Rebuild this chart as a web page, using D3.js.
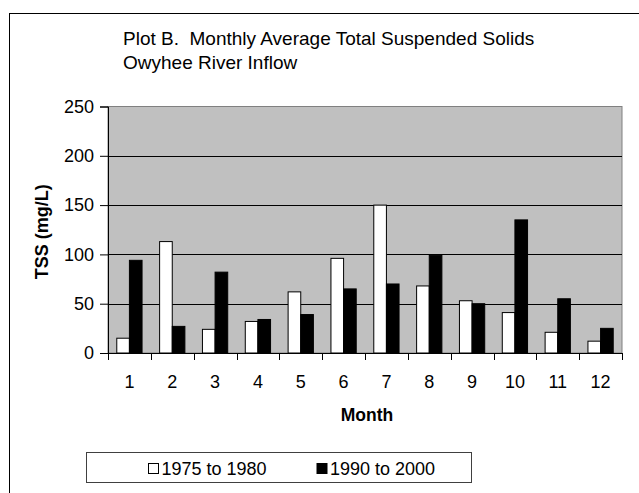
<!DOCTYPE html>
<html>
<head>
<meta charset="utf-8">
<script src="https://cdn.jsdelivr.net/npm/d3@7"></script>
<style>
  html, body { margin: 0; padding: 0; background: #fff; }
  svg { display: block; }
  text { font-family: "Liberation Sans", Arial, sans-serif; fill: #000; white-space: pre; }
</style>
</head>
<body>
<svg id="chart" width="639" height="493"></svg>
<script>
// Monthly average TSS (mg/L), Owyhee River inflow
const months = ["1","2","3","4","5","6","7","8","9","10","11","12"];
const tss1975to1980 = [15, 113, 24, 32, 62, 96, 150, 68, 53, 41, 21, 12];
const tss1990to2000 = [94, 27, 82, 34, 39, 65, 70, 99, 50, 135, 55, 25];
const seriesNames = ["1975 to 1980", "1990 to 2000"];
const yTicks = [0, 50, 100, 150, 200, 250];
const titleLines = ["Plot B.  Monthly Average Total Suspended Solids", "Owyhee River Inflow"];

const svg = d3.select("#chart");
const plot = { left: 108, right: 622, top: 106.5, bottom: 353 };

// outer chart frame (continues past the right and bottom edges)
svg.append("rect")
  .attr("x", 9.5).attr("y", 13.5)
  .attr("width", 700).attr("height", 600)
  .attr("fill", "#fff").attr("stroke", "#000").attr("stroke-width", 1);

const x = d3.scaleBand().domain(months).range([plot.left, plot.right]);
const y = d3.scaleLinear().domain([0, 250]).range([plot.bottom, plot.top]);

// plot area
svg.append("rect")
  .attr("x", plot.left).attr("y", plot.top)
  .attr("width", plot.right - plot.left).attr("height", plot.bottom - plot.top)
  .attr("fill", "#c0c0c0").attr("stroke", "#808080").attr("stroke-width", 1);

// horizontal gridlines
svg.append("g")
  .selectAll("line")
  .data(yTicks.filter(d => d > 0 && d < 250))
  .join("line")
  .attr("x1", plot.left).attr("x2", plot.right)
  .attr("y1", d => Math.round(y(d)) + 0.5).attr("y2", d => Math.round(y(d)) + 0.5)
  .attr("stroke", "#000").attr("stroke-width", 1);

// bars
const barW = x.bandwidth() * 0.295;
const series = [
  { name: seriesNames[0], values: tss1975to1980, fill: "#fff", offset: -1 },
  { name: seriesNames[1], values: tss1990to2000, fill: "#000", offset: 0 }
];
series.forEach(s => {
  svg.append("g")
    .selectAll("rect")
    .data(months.map((m, i) => ({ m, v: s.values[i] })))
    .join("rect")
    .attr("x", d => x(d.m) + x.bandwidth() / 2 + s.offset * barW)
    .attr("y", d => y(d.v))
    .attr("width", barW)
    .attr("height", d => y(0) - y(d.v))
    .attr("fill", s.fill)
    .attr("stroke", "#000").attr("stroke-width", 1);
});

// y axis
const yAxis = d3.axisLeft(y).tickValues(yTicks).tickSize(8).tickPadding(6);
const gy = svg.append("g").attr("transform", `translate(${plot.left},0)`).call(yAxis);
gy.select(".domain").attr("stroke", "#000");
gy.selectAll(".tick line").attr("stroke", "#000");
gy.selectAll(".tick text").style("font-size", "18px").attr("font-family", null);

// x axis: ticks on category boundaries, labels at category centres
const gx = svg.append("g").attr("transform", `translate(0,${plot.bottom})`);
gx.append("line")
  .attr("x1", plot.left).attr("x2", plot.right)
  .attr("y1", 0.5).attr("y2", 0.5).attr("stroke", "#000");
const bounds = months.map(m => x(m)).concat([plot.right]);
gx.selectAll("line.tk")
  .data(bounds)
  .join("line").attr("class", "tk")
  .attr("x1", d => Math.round(d) + 0.5).attr("x2", d => Math.round(d) + 0.5)
  .attr("y1", 0).attr("y2", 7).attr("stroke", "#000");
gx.selectAll("text")
  .data(months)
  .join("text")
  .attr("x", d => x(d) + x.bandwidth() / 2)
  .attr("y", 35)
  .attr("text-anchor", "middle")
  .style("font-size", "18px")
  .text(d => d);

// axis titles
svg.append("text")
  .attr("x", (plot.left + plot.right) / 2 + 2).attr("y", 421)
  .attr("text-anchor", "middle")
  .style("font-size", "17.5px").style("font-weight", "bold")
  .text("Month");
svg.append("text")
  .attr("transform", `translate(48,${(plot.top + plot.bottom) / 2 + 2}) rotate(-90)`)
  .attr("text-anchor", "middle")
  .style("font-size", "18px").style("font-weight", "bold")
  .text("TSS (mg/L)");

// title
svg.append("g").selectAll("text")
  .data(titleLines)
  .join("text")
  .attr("x", 123).attr("y", (d, i) => 45 + i * 23.5)
  .style("font-size", "19px")
  .text(d => d);

// legend
const lg = svg.append("g");
lg.append("rect")
  .attr("x", 86.5).attr("y", 452.5).attr("width", 385).attr("height", 30)
  .attr("fill", "#fff").attr("stroke", "#404040");
const legendItems = lg.selectAll("g.item")
  .data(series)
  .join("g").attr("class", "item")
  .attr("transform", (d, i) => `translate(${148 + i * 168.5},0)`);
legendItems.append("rect")
  .attr("x", 0.5).attr("y", 463.5).attr("width", 10).attr("height", 10)
  .attr("fill", d => d.fill).attr("stroke", "#000");
legendItems.append("text")
  .attr("x", 13.5).attr("y", 474.5)
  .style("font-size", "18px")
  .text(d => d.name);
</script>
</body>
</html>
